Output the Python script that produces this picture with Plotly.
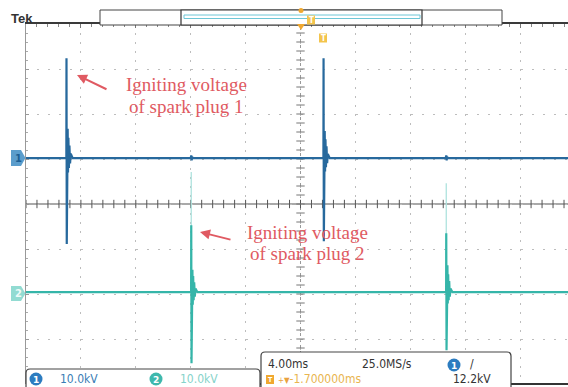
import numpy as np
import plotly.graph_objects as go

# ---------------- data ----------------
time_range_ms = [-20.0, 19.49]          # 4 ms/div, centre of screen = 0
volt_range_div = [-4.0, 4.0]
kv_per_div = 10.0
ch1_offset_div = 1.02
ch2_offset_div = -1.96

spike_dt_ms = [-0.15, -0.01, 0.0, 0.02, 0.04, 0.06, 0.085, 0.11, 0.14, 0.175, 0.215, 0.26, 0.31, 0.45]

ch1_spike_times_ms = [-17.05, 1.68]
ch1_spike1_kv = [0, 0, 22.2, -19.1, 8.5, -4.0, 6.5, -3.2, 4.5, -2.2, 2.8, -1.2, 1.0, 0]
ch1_spike2_kv = [0, 0, 22.2, -18.5, 8.0, -3.8, 6.0, -3.0, 4.2, -2.0, 2.6, -1.1, 0.9, 0]

ch2_spike_times_ms = [-7.96, 10.62]
ch2_spike1_kv = [0, 0, 14.9, -15.8, 6.5, -3.5, 5.0, -2.8, 3.6, -1.8, 2.2, -1.0, 0.8, 0]
ch2_spike2_kv = [0, 0, 13.1, -12.9, 8.5, -3.0, 6.0, -2.5, 4.0, -1.8, 2.5, -1.0, 0.8, 0]
ch2_faint_peak_kv = [26.7, 24.2]

crosstalk_dt_ms = [-0.04, 0.0, 0.03, 0.06, 0.1]
ch1_crosstalk_kv = [0, 0.6, -0.5, 0.3, 0]

ch1_scale_label = "10.0kV"
ch2_scale_label = "10.0kV"
timebase_label = "4.00ms"
sample_rate_label = "25.0MS/s"
trigger_level_label = "12.2kV"
hpos_label = "-1.700000ms"

ann1_lines = ["Igniting voltage", "of spark plug 1"]
ann2_lines = ["Igniting voltage", "of spark plug 2"]

# ---------------- colours / geometry ----------------
C1 = "#27699d"
C2 = "#35b5a9"
C2_FAINT = "#aee3de"
RED = "#e05a62"
W, H = 568, 387
L, R, T, B = 26, 568, 24, 384


def px(x):
    return (x - L) / (R - L)


def py(y):
    return (B - y) / (B - T)


def build(offset, events):
    events = sorted(events, key=lambda e: e[0])
    xs, ys = [time_range_ms[0] - 1], [offset]
    for t, dts, kvs in events:
        for dt, v in zip(dts, kvs):
            xs.append(t + dt)
            ys.append(offset + v / kv_per_div)
    xs.append(time_range_ms[1] + 1)
    ys.append(offset)
    return xs, ys


ch1_events = [(ch1_spike_times_ms[0], spike_dt_ms, ch1_spike1_kv),
              (ch1_spike_times_ms[1], spike_dt_ms, ch1_spike2_kv)]
ch1_events += [(t, crosstalk_dt_ms, ch1_crosstalk_kv) for t in ch2_spike_times_ms]
ch2_events = [(ch2_spike_times_ms[0], spike_dt_ms, ch2_spike1_kv),
              (ch2_spike_times_ms[1], spike_dt_ms, ch2_spike2_kv)]

x1, y1 = build(ch1_offset_div, ch1_events)
x2, y2 = build(ch2_offset_div, ch2_events)

fx, fy = [], []
for t, pk in zip(ch2_spike_times_ms, ch2_faint_peak_kv):
    fx += [t, t, None]
    fy += [ch2_offset_div, ch2_offset_div + pk / kv_per_div, None]

fig = go.Figure()

# centre-cross tick marks (graticule decoration)
hx = np.arange(time_range_ms[0], time_range_ms[1], 0.8)
fig.add_trace(go.Scatter(x=hx, y=np.zeros_like(hx), mode="markers", hoverinfo="skip",
                         marker=dict(symbol="line-ns", size=6, line=dict(width=1, color="#555"))))
vy = np.arange(volt_range_div[0], volt_range_div[1] + 0.01, 0.2)
fig.add_trace(go.Scatter(x=np.zeros_like(vy), y=vy, mode="markers", hoverinfo="skip",
                         marker=dict(symbol="line-ew", size=6, line=dict(width=1, color="#777"))))

fig.add_trace(go.Scatter(x=fx, y=fy, mode="lines", line=dict(color=C2_FAINT, width=1.3), hoverinfo="skip"))
fig.add_trace(go.Scatter(x=x2, y=y2, mode="lines", line=dict(color=C2, width=2.2), name="CH2"))
fig.add_trace(go.Scatter(x=x1, y=y1, mode="lines", line=dict(color=C1, width=2.2), name="CH1"))

shapes = []
# centre lines
shapes.append(dict(type="line", xref="x", yref="paper", x0=0, x1=0, y0=0, y1=1,
                   line=dict(color="#999", width=1, dash="dot"), layer="below"))
shapes.append(dict(type="line", xref="paper", yref="y", x0=0, x1=1, y0=0, y1=0,
                   line=dict(color="#555", width=1.2), layer="below"))
# bottom border
shapes.append(dict(type="line", xref="paper", yref="paper", x0=0, x1=1, y0=py(384), y1=py(384),
                   line=dict(color="#333", width=2)))


def rrect(x0, y0, x1, y1, r=4):
    X0, X1 = px(x0), px(x1)
    Y0, Y1 = py(y0), py(y1)
    rx = r / (R - L)
    ry = r / (B - T)
    return (f"M {X0+rx},{Y0} L {X1-rx},{Y0} Q {X1},{Y0} {X1},{Y0-ry} "
            f"L {X1},{Y1+ry} Q {X1},{Y1} {X1-rx},{Y1} L {X0+rx},{Y1} "
            f"Q {X0},{Y1} {X0},{Y1+ry} L {X0},{Y0-ry} Q {X0},{Y0} {X0+rx},{Y0} Z")


# record-view bar at top
shapes.append(dict(type="rect", xref="paper", yref="paper", x0=px(100), x1=px(502), y0=py(25), y1=py(10),
                   line=dict(color="#444", width=1), fillcolor="white"))
shapes.append(dict(type="rect", xref="paper", yref="paper", x0=px(181), x1=px(422), y0=py(25), y1=py(10),
                   line=dict(color="#333", width=1.2), fillcolor="white"))
shapes.append(dict(type="rect", xref="paper", yref="paper", x0=px(184), x1=px(420), y0=py(18.5), y1=py(15),
                   line=dict(color="#6cc6d6", width=1), fillcolor="rgba(0,0,0,0)"))
shapes.append(dict(type="circle", xref="paper", yref="paper", x0=px(298.5), x1=px(303.5), y0=py(13), y1=py(8),
                   line=dict(width=0), fillcolor="#f0a830"))
shapes.append(dict(type="path", xref="paper", yref="paper",
                   path=f"M {px(297)},{py(24)} L {px(305)},{py(24)} L {px(301)},{py(30)} Z",
                   line=dict(width=0), fillcolor="#f0a830"))
for cx, cy in [(311, 20), (323, 38)]:
    shapes.append(dict(type="rect", xref="paper", yref="paper", x0=px(cx - 4), x1=px(cx + 4),
                       y0=py(cy + 4.5), y1=py(cy - 4.5), line=dict(width=0), fillcolor="#f3c44c"))

# channel markers on the left
shapes.append(dict(type="path", xref="paper", yref="paper",
                   path=f"M {px(11)},{py(150)} L {px(21)},{py(150)} L {px(25.5)},{py(158)} L {px(21)},{py(166)} L {px(11)},{py(166)} Z",
                   line=dict(width=0), fillcolor="#5b9dcc"))
shapes.append(dict(type="path", xref="paper", yref="paper",
                   path=f"M {px(11)},{py(286)} L {px(21)},{py(286)} L {px(25.5)},{py(293.5)} L {px(21)},{py(301)} L {px(11)},{py(301)} Z",
                   line=dict(width=0), fillcolor="#92dbd2"))

# readout boxes
shapes.append(dict(type="path", xref="paper", yref="paper", path=rrect(26, 369, 260, 395),
                   line=dict(color="#444", width=1.2), fillcolor="white"))
shapes.append(dict(type="path", xref="paper", yref="paper", path=rrect(261, 352, 511, 395),
                   line=dict(color="#444", width=1.2), fillcolor="white"))
for cx, cy, col in [(36, 379, "#2c7cc0"), (156, 379, "#3fb8ad"), (454, 365, "#2c7cc0")]:
    shapes.append(dict(type="circle", xref="paper", yref="paper", x0=px(cx - 6.5), x1=px(cx + 6.5),
                       y0=py(cy + 6.5), y1=py(cy - 6.5), line=dict(width=0), fillcolor=col))
shapes.append(dict(type="rect", xref="paper", yref="paper", x0=px(266), x1=px(274),
                   y0=py(384), y1=py(375), line=dict(width=0), fillcolor="#f0a830"))

SF = "Liberation Sans Narrow, DejaVu Sans Condensed, Arial Narrow, sans-serif"
ann = []


def txt(x, y, s, color="#333", size=12, xanchor="left", family=SF, bold=False):
    if bold:
        s = f"<b>{s}</b>"
    ann.append(dict(x=px(x), y=py(y), xref="paper", yref="paper", text=s, showarrow=False,
                    xanchor=xanchor, yanchor="middle", font=dict(family=family, size=size, color=color)))


txt(9, 18, "Tek", color="#333", size=13, family="Liberation Sans, Arial, sans-serif", bold=True)
txt(311, 20.5, "T", color="white", size=8, xanchor="center", bold=True)
txt(323, 38.5, "T", color="white", size=8, xanchor="center", bold=True)
txt(18, 158, "1", color="#1d5f94", size=10, xanchor="center", family="DejaVu Sans, sans-serif", bold=True)
txt(18, 293.5, "2", color="#eefaf8", size=10, xanchor="center", family="DejaVu Sans, sans-serif", bold=True)

txt(36, 379.5, "1", color="white", size=9, xanchor="center", family="DejaVu Sans, sans-serif", bold=True)
txt(58, 379, ch1_scale_label, color="#3a7db5", size=12)
txt(156, 379.5, "2", color="white", size=9, xanchor="center", family="DejaVu Sans, sans-serif", bold=True)
txt(178, 379, ch2_scale_label, color="#86d3ca", size=12)

txt(266, 364, timebase_label, size=12)
txt(387, 364, sample_rate_label, size=12, xanchor="center")
txt(454, 365.5, "1", color="white", size=9, xanchor="center", family="DejaVu Sans, sans-serif", bold=True)
txt(468, 364, "/", size=12)
txt(451, 379, trigger_level_label, size=12)
txt(270, 380, "T", color="white", size=7, xanchor="center", bold=True)
txt(276, 379, "<span style='font-size:8px;color:#e9a23f'>+▼</span>" + hpos_label, color="#e9b54f", size=12)

# red annotations (one text per line to match the tight line spacing)
SER = "Liberation Serif, Times New Roman, serif"
for (cx, ys, lines) in [(186, (85, 107), ann1_lines), (308, (233, 253), ann2_lines)]:
    for yy, s in zip(ys, lines):
        ann.append(dict(x=px(cx), y=py(yy), xref="paper", yref="paper", text=s, showarrow=False,
                        xanchor="center", yanchor="middle",
                        font=dict(family=SER, size=19, color=RED)))
ann.append(dict(x=px(77), y=py(75), xref="paper", yref="paper", text="", showarrow=True,
                ax=31, ay=15, arrowhead=2, arrowsize=1, arrowwidth=2, arrowcolor=RED))
ann.append(dict(x=px(200), y=py(232), xref="paper", yref="paper", text="", showarrow=True,
                ax=32, ay=8, arrowhead=2, arrowsize=1, arrowwidth=2, arrowcolor=RED))

fig.update_layout(
    width=W, height=H, autosize=False,
    margin=dict(l=L, r=W - R, t=T, b=H - B, pad=0),
    paper_bgcolor="white", plot_bgcolor="white",
    showlegend=False, shapes=shapes, annotations=ann,
    xaxis=dict(range=time_range_ms, side="top", showline=True, linecolor="#3a3a3a", linewidth=2,
               showgrid=True, gridcolor="#bdbdbd", gridwidth=1.2, griddash="2px,7px",
               tick0=0, dtick=4, ticks="inside", ticklen=4, tickcolor="#777",
               minor=dict(dtick=0.8, tick0=0, ticks="inside", ticklen=3, tickcolor="#888", showgrid=False),
               showticklabels=False, zeroline=False, fixedrange=True),
    yaxis=dict(range=volt_range_div, showline=True, linecolor="#999", linewidth=1,
               showgrid=True, gridcolor="#bdbdbd", gridwidth=1.2, griddash="2px,9px",
               tick0=0, dtick=1, ticks="inside", ticklen=3, tickcolor="#999",
               minor=dict(dtick=0.2, tick0=0, ticks="inside", ticklen=2, tickcolor="#aaa", showgrid=False),
               showticklabels=False, zeroline=False, fixedrange=True),
)

fig.write_html("out.html")
